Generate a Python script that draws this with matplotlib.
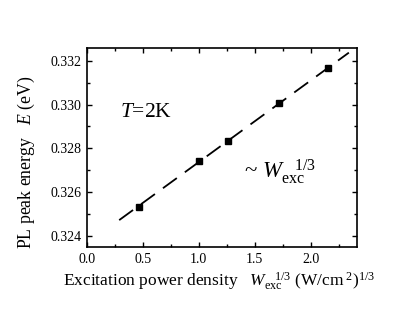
import matplotlib
matplotlib.use('Agg')
import matplotlib.pyplot as plt
from matplotlib.ticker import MultipleLocator, FormatStrFormatter
import numpy as np

# dados medidos (T = 2 K)
w13 = [0.464, 1.003, 1.262, 1.714, 2.158]
energy = [0.32534, 0.32741, 0.32835, 0.33008, 0.33165]
fit_range = [0.29, 2.34]

plt.rcParams['font.family'] = ['Liberation Serif', 'DejaVu Serif']
plt.rcParams['mathtext.fontset'] = 'custom'
plt.rcParams['mathtext.rm'] = 'Liberation Serif'
plt.rcParams['mathtext.it'] = 'Liberation Serif:italic'

fig = plt.figure(figsize=(4.15, 3.17), dpi=100)
ax = fig.add_axes([86.7 / 415, 1 - 247.3 / 317, 270 / 415, 199 / 317])

# ajuste linear ~ W^(1/3)
p = np.polyfit(w13, energy, 1)
xf = np.linspace(fit_range[0], fit_range[1], 50)
ax.plot(xf, np.polyval(p, xf), color='black', lw=1.3, linestyle=(0, (9.5, 5.5)))
ax.plot(w13, energy, 's', color='black', ms=4.3)

ax.set_xlim(0, 2.41)
ax.set_ylim(0.32348, 0.33257)
ax.xaxis.set_major_locator(MultipleLocator(0.5))
ax.xaxis.set_minor_locator(MultipleLocator(0.25))
ax.yaxis.set_major_locator(MultipleLocator(0.002))
ax.yaxis.set_minor_locator(MultipleLocator(0.001))
ax.xaxis.set_major_formatter(FormatStrFormatter('%.1f'))
ax.yaxis.set_major_formatter(FormatStrFormatter('%.3f'))
ax.tick_params(which='both', direction='in', top=True, right=True, width=1.0, labelsize=10, pad=4)
ax.tick_params(which='major', length=3.5)
ax.tick_params(which='minor', length=2.5)
for s in ax.spines.values():
    s.set_linewidth(1.2)

ax.text(0.30, 0.32943, r'$T$=2K', fontsize=15.5, va='baseline')
ax.text(1.40, 0.32665, r'~ $W_{\rm exc}^{\ \ \ 1/3}$', fontsize=16.5, va='baseline')

ax.set_xlabel(r'Excitation power density   $W_{\rm exc}^{\ \ \ 1/3}$ (W/cm$^{\ 2}$)$^{1/3}$', fontsize=12.5)
ax.xaxis.set_label_coords(0.49, -0.115)
ax.xaxis.label.set_va('top')
ax.set_ylabel(r'PL peak energy   $E$ (eV)', fontsize=12.8)
ax.yaxis.set_label_coords(-0.185, 0.43)

fig.savefig('out.png', dpi=100)
